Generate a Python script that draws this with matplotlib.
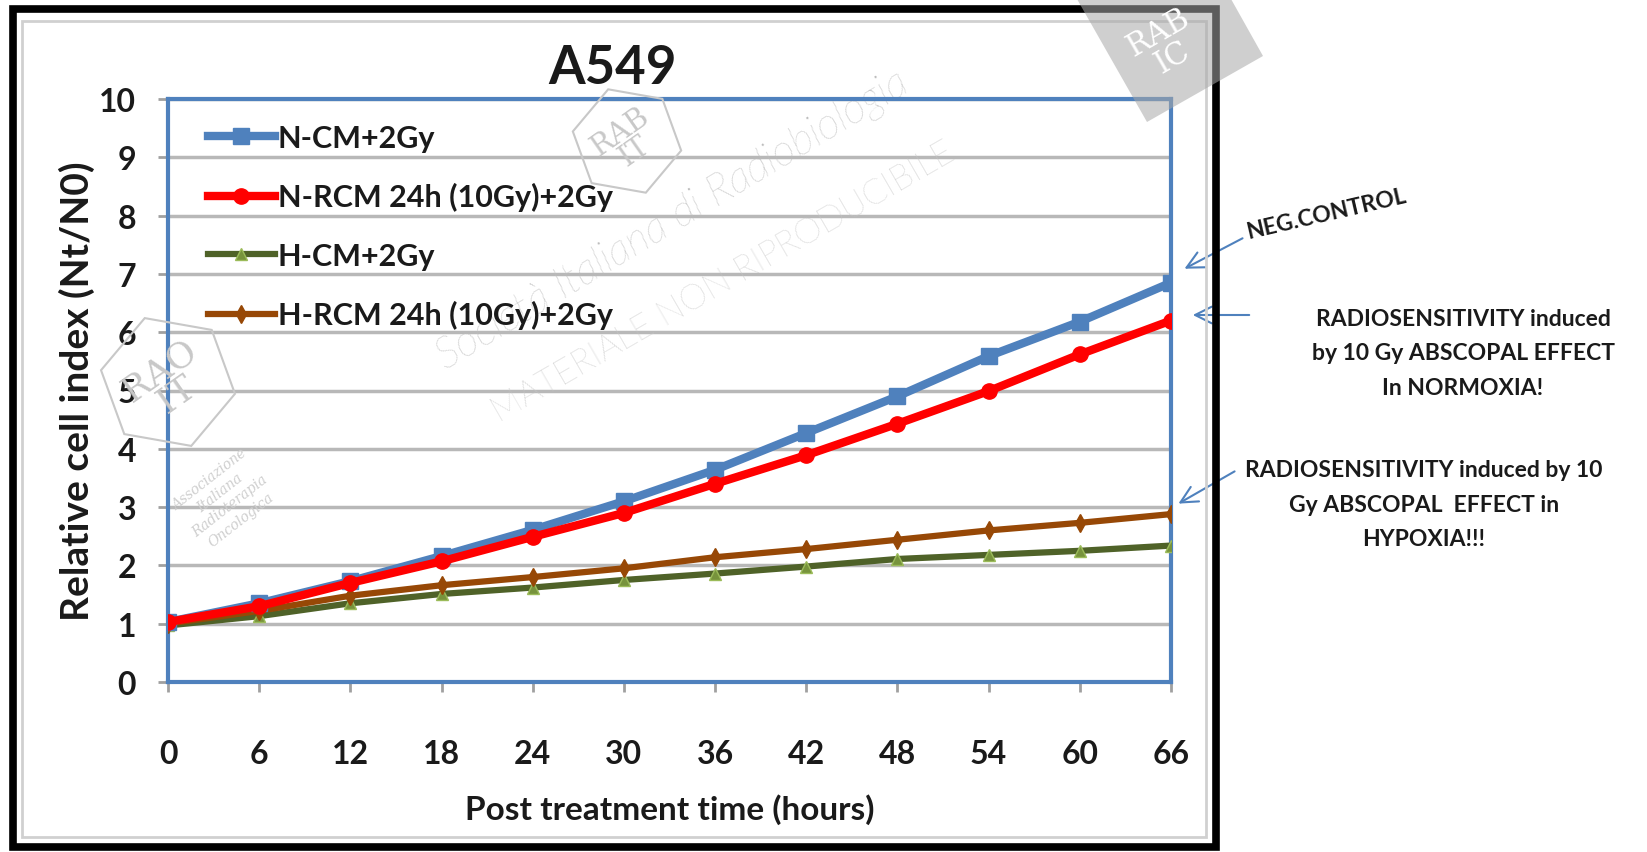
import numpy as np
import matplotlib.pyplot as plt
from matplotlib.patches import Rectangle, Polygon, RegularPolygon

hours = [0, 6, 12, 18, 24, 30, 36, 42, 48, 54, 60, 66]
n_cm = [1.03, 1.35, 1.73, 2.16, 2.61, 3.10, 3.64, 4.27, 4.90, 5.59, 6.18, 6.85]
n_rcm = [1.03, 1.30, 1.70, 2.07, 2.49, 2.90, 3.40, 3.89, 4.43, 4.99, 5.62, 6.20]
h_cm = [0.97, 1.13, 1.35, 1.51, 1.62, 1.75, 1.86, 1.98, 2.11, 2.18, 2.25, 2.34]
h_rcm = [1.00, 1.22, 1.48, 1.66, 1.80, 1.95, 2.14, 2.28, 2.44, 2.60, 2.73, 2.88]

labels = ['N-CM+2Gy', 'N-RCM 24h (10Gy)+2Gy', 'H-CM+2Gy', 'H-RCM 24h (10Gy)+2Gy']

font = ['Lato', 'DejaVu Sans']
blue = '#4F81BD'
ink = '#1A1A1A'
W, H = 1647, 853


def fx(x, y):
    # pixel position (from top left) -> figure fraction
    return (x / W, 1 - y / H)


fig = plt.figure(figsize=(16.47, 8.53), dpi=100)
ax = fig.add_axes([168 / W, 1 - 683 / H, (1171 - 168) / W, (683 - 100) / H])

# outer black frame with light shadow
fig.patches.append(Rectangle(fx(13, 848), (1216 - 13) / W, (848 - 10) / H,
                             transform=fig.transFigure, fill=False, ec='black', lw=5.5, zorder=3))
fig.patches.append(Rectangle(fx(22, 838), (1206 - 22) / W, (838 - 22) / H,
                             transform=fig.transFigure, fill=False, ec='#D0D0D0', lw=2))
# grey logo tile in the top right corner
corner = [(1077, 0), (1231, 0), (1263, 57), (1147, 123)]
fig.patches.append(Polygon([fx(x, y) for x, y in corner], closed=True,
                           transform=fig.transFigure, fc='#A8A8A8', ec='none', alpha=0.55, zorder=4))
fig.text(*fx(1165, 45), 'RAB\nIC', fontsize=22, color='white', family='DejaVu Serif',
         rotation=30, ha='center', va='center', linespacing=0.9, zorder=5)

# faint hexagon logos
for (cx, cy, r, txt) in [(627, 142, 55, 'RAB\nIT'), (168, 383, 68, 'RAO\nIT')]:
    fig.patches.append(RegularPolygon((cx / 100, (H - cy) / 100), 6, radius=r / 100,
                                      orientation=np.radians(20), transform=fig.dpi_scale_trans,
                                      fill=False, ec='#C8C8C8', lw=1.5, zorder=2))
    fig.text(*fx(cx, cy), txt, fontsize=r * 0.38, color='#C8C8C8', family='DejaVu Serif',
             rotation=35, ha='center', va='center', linespacing=0.85)
fig.text(*fx(225, 500), 'Associazione\nItaliana\nRadioterapia\nOncologica', fontsize=10,
         color='#CFCFCF', family='DejaVu Serif', style='italic', rotation=38,
         ha='center', va='center', linespacing=1.3)

ax.plot(hours, n_cm, color=blue, lw=6, marker='s', ms=11, label=labels[0], zorder=4)
ax.plot(hours, n_rcm, color='#FF0000', lw=6, marker='o', ms=11, label=labels[1], zorder=5)
ax.plot(hours, h_cm, color='#4F6228', lw=4.5, marker='^', ms=9, mfc='#77933C',
        mec='#9BBB59', label=labels[2], zorder=3)
ax.plot(hours, h_rcm, color='#974806', lw=4.5, marker='d', ms=9, label=labels[3], zorder=3)

ax.set_xlim(0, 66)
ax.set_ylim(0, 10)
ax.set_xticks(hours)
ax.set_yticks(range(0, 11))
ax.grid(axis='y', color='#B8B8B8', lw=2.5)
ax.set_axisbelow(True)
for s in ax.spines.values():
    s.set_color(blue)
    s.set_linewidth(3)
ax.tick_params(axis='both', colors='#A0A0A0', width=2, length=7)
ax.tick_params(axis='y', pad=16, labelcolor=ink, labelsize=23)
ax.tick_params(axis='x', pad=34, labelcolor=ink, labelsize=23)
for t in ax.get_xticklabels() + ax.get_yticklabels():
    t.set_family(font)
    t.set_fontweight('bold')

ax.set_xlabel('Post treatment time (hours)', family=font, fontsize=24, fontweight='bold',
              labelpad=18, color=ink)
ax.set_ylabel('Relative cell index (Nt/N0)', family=font, fontsize=28, fontweight='bold',
              labelpad=3, color=ink)
fig.text(*fx(613, 68), 'A549', family=font, fontsize=38, fontweight='bold',
         ha='center', va='center', color=ink)

leg = ax.legend(loc='upper left', bbox_to_anchor=(0.012, 1.005), frameon=False,
                prop={'family': font, 'size': 22, 'weight': 'bold'}, handlelength=2.2,
                handletextpad=0.1, labelspacing=1.0)
for t in leg.get_texts():
    t.set_color(ink)

# watermark text
ax.text(0.503, 0.793, 'Società Italiana di Radiobiologia', transform=ax.transAxes, rotation=31,
        fontsize=31, color='#BDBDBD', style='italic', family=font, fontweight='light',
        ha='center', va='center', zorder=1)
ax.text(0.553, 0.688, 'MATERIALE NON RIPRODUCIBILE', transform=ax.transAxes, rotation=30,
        fontsize=25, color='#C6C6C6', family=font, fontweight='light',
        ha='center', va='center', zorder=1)

# annotations
ann = dict(arrowstyle='->', color=blue, lw=1.5, mutation_scale=30)
fig.text(*fx(1326, 214), 'NEG.CONTROL', family=font, fontsize=16.5, fontweight='bold',
         rotation=13, ha='center', va='center', color=ink)
ax.annotate('', xy=fx(1182, 271), xytext=fx(1245, 238),
            xycoords='figure fraction', textcoords='figure fraction', arrowprops=ann)
ax.annotate('', xy=fx(1190, 316), xytext=fx(1252, 316),
            xycoords='figure fraction', textcoords='figure fraction', arrowprops=ann)
ax.annotate('', xy=fx(1176, 506), xytext=fx(1237, 471),
            xycoords='figure fraction', textcoords='figure fraction', arrowprops=ann)
fig.text(*fx(1463, 354), 'RADIOSENSITIVITY induced\nby 10 Gy ABSCOPAL EFFECT\nIn NORMOXIA!',
         family=font, fontsize=16.5, fontweight='bold', ha='center', va='center',
         linespacing=1.8, color=ink)
fig.text(*fx(1424, 505), 'RADIOSENSITIVITY induced by 10\nGy ABSCOPAL  EFFECT in\nHYPOXIA!!!',
         family=font, fontsize=16.5, fontweight='bold', ha='center', va='center',
         linespacing=1.8, color=ink)

fig.savefig('out.png', dpi=100)
